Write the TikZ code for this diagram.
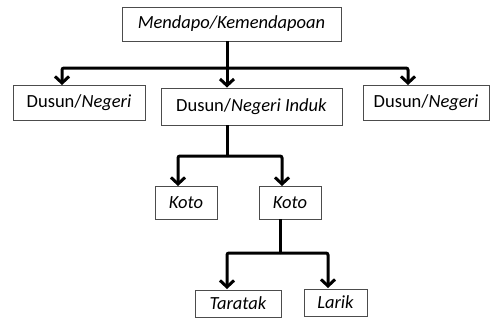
\documentclass[tikz,border=0pt]{standalone}
\usepackage{fontspec}
\setmainfont{Carlito}
\usetikzlibrary{arrows.meta}
\begin{document}
\begin{tikzpicture}[x=1pt,y=-1pt,
  box/.style={draw=black!70,line width=0.9pt,fill=white,inner sep=0pt,font=\fontsize{18.5}{21}\selectfont},
  line/.style={line width=3pt,rounded corners=2pt},
  arr/.style={-{Straight Barb[length=6.5pt,width=14pt]}}
]
\useasboundingbox (0,0) rectangle (491,324);
\node[box,minimum width=219pt,minimum height=34pt] (top) at (231.5,24) {\itshape Mendapo/Kemendapoan};
\node[box,minimum width=132pt,minimum height=35pt] (L) at (79,102.5) {Dusun/\textit{Negeri}};
\node[box,minimum width=181pt,minimum height=37pt] (M) at (251.5,106.5) {Dusun/\textit{Negeri Induk}};
\node[box,minimum width=126pt,minimum height=35pt] (R) at (426,102.5) {Dusun/\textit{Negeri}};
\node[box,minimum width=62pt,minimum height=33pt] (K1) at (186,202.5) {\itshape Koto};
\node[box,minimum width=62pt,minimum height=33pt] (K2) at (290,202.5) {\itshape Koto};
\node[box,minimum width=86pt,minimum height=27pt] (T) at (238,303.5) {\itshape Taratak};
\node[box,minimum width=63pt,minimum height=27pt] (La) at (335.5,302.5) {\itshape Larik};
% level 1
\coordinate (j1) at (227,68);
\coordinate (aL) at (62,85);
\coordinate (aR) at (408,85);
\draw[line] (top.south -| j1) -- (j1);
\draw[line,arr] (j1) -| (aL);
\draw[line,arr] (j1) -| (aR);
\draw[line,arr] (j1) -- (j1 |- M.north);
% level 2
\coordinate (j2) at (227,156);
\coordinate (aK1) at (178,186);
\coordinate (aK2) at (282,186);
\draw[line] (M.south -| j2) -- (j2);
\draw[line,arr] (j2) -| (aK1);
\draw[line,arr] (j2) -| (aK2);
% level 3
\coordinate (j3) at (280,253);
\coordinate (aT) at (227,289);
\coordinate (aLa) at (328,288);
\draw[line] (K2.south -| j3) -- (j3);
\draw[line,arr] (j3) -| (aT);
\draw[line,arr] (j3) -| (aLa);
\end{tikzpicture}
\end{document}
